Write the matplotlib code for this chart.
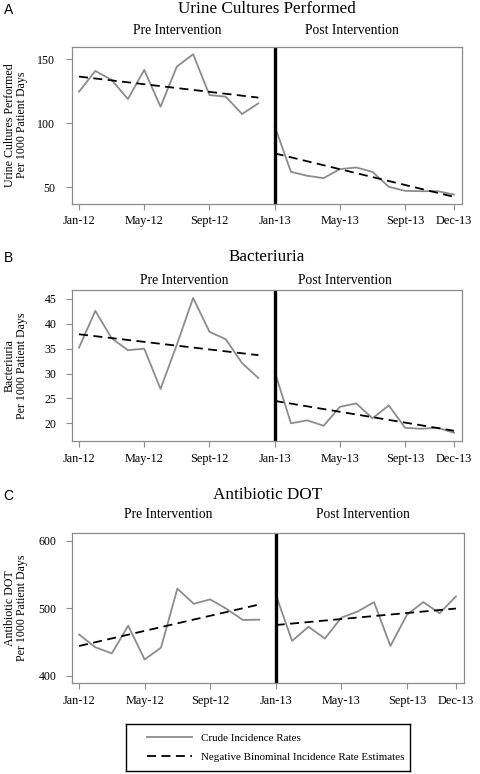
import numpy as np
import matplotlib
matplotlib.use("Agg")
from matplotlib import pyplot as plt

plt.rcParams["font.family"] = ["Liberation Serif", "DejaVu Serif"]

W, H = 480, 774

# months since Jan-12
months = np.arange(24)
pre_months = months[:12]
post_months = months[12:]
tick_months = [0, 4, 8, 12, 16, 20, 23]
tick_labels = ["Jan-12", "May-12", "Sept-12", "Jan-13", "May-13", "Sept-13", "Dec-13"]

# A - urine cultures per 1000 patient days
urine_pre = [124.7, 140.9, 133.9, 119.0, 141.7, 113.0, 144.3, 153.9, 122.1, 120.8, 107.3, 115.6]
urine_post = [97.9, 62.2, 59.1, 57.3, 64.3, 65.6, 62.2, 50.5, 47.4, 47.1, 47.1, 44.5]
urine_fit_pre = [136.5, 120.1]
urine_fit_post = [76.6, 42.7]

# B - bacteriuria per 1000 patient days
bact_pre = [35.2, 42.6, 37.1, 34.7, 35.0, 26.9, 35.8, 45.2, 38.4, 36.9, 32.1, 29.1]
bact_post = [30.4, 20.0, 20.6, 19.5, 23.3, 24.0, 21.0, 23.6, 19.1, 18.9, 19.1, 18.1]
bact_fit_pre = [37.9, 33.7]
bact_fit_post = [24.5, 18.5]

# C - antibiotic DOT per 1000 patient days
dot_pre = [461, 442, 433, 474, 424, 441.5, 529, 506.5, 513, 499, 482.5, 483]
dot_post = [520.5, 451.5, 472.5, 455, 486, 495, 509, 444, 490, 509, 492.5, 517.5]
dot_fit_pre = [444, 505.5]
dot_fit_post = [475, 499.5]

panels = [
    # letter, title, ylabel, pre, post, fit pre, fit post, yticks, ylim
    ("A", "Urine Cultures Performed", "Urine Cultures Performed\nPer 1000 Patient Days",
     urine_pre, urine_post, urine_fit_pre, urine_fit_post, [50, 100, 150], (37.5, 159.8)),
    ("B", "Bacteriuria", "Bacteriuria\nPer 1000 Patient Days",
     bact_pre, bact_post, bact_fit_pre, bact_fit_post, [20, 25, 30, 35, 40, 45], (16.5, 46.8)),
    ("C", "Antibiotic DOT", "Antibiotic DOT\nPer 1000 Patient Days",
     dot_pre, dot_post, dot_fit_pre, dot_fit_post, [400, 500, 600], (388.7, 611.4)),
]

# layout in pixels: left, right, top, bottom of each box
boxes = [(72, 462, 46.7, 203.5), (72, 462, 290, 440.7), (72, 464, 533, 683.3)]
title_y = [9, 256.7, 495]
sub_y = [31, 280, 515]
sub_x = [(177, 351.5), (184.3, 344.8), (168.3, 363)]
ypads = [8, 7, 7]

gray = "#8c8c8c"

fig = plt.figure(figsize=(W / 100, H / 100), dpi=100)

handles = None
for i, (letter, title, ylab, pre, post, fpre, fpost, yt, yl) in enumerate(panels):
    l, r, t, b = boxes[i]
    ax = fig.add_axes([l / W, 1 - b / H, (r - l) / W, (b - t) / H])

    h1, = ax.plot(pre_months, pre, color=gray, lw=1.3, label="Crude Incidence Rates")
    ax.plot(post_months, post, color=gray, lw=1.3)
    h2, = ax.plot([pre_months[0], pre_months[-1]], fpre, color="black", lw=1.3,
                  dashes=(5, 3), label="Negative Binominal Incidence Rate Estimates")
    ax.plot([post_months[0], post_months[-1]], fpost, color="black", lw=1.3, dashes=(5, 3))
    ax.axvline(12, color="black", lw=2.4)
    if handles is None:
        handles = [h1, h2]

    ax.set_xlim(-0.43, 23.49)
    ax.set_ylim(*yl)
    ax.set_xticks(tick_months)
    ax.set_xticklabels(tick_labels)
    ax.set_yticks(yt)

    for s in ax.spines.values():
        s.set_color(gray)
        s.set_linewidth(0.9)
    ax.tick_params(axis="x", direction="out", length=4, color=gray, labelsize=8.8, pad=4.5)
    ax.tick_params(axis="y", direction="out", length=4, color=gray, labelsize=8.6, pad=ypads[i])

    ax.set_ylabel(ylab, fontsize=8.6, linespacing=1.0)
    ax.yaxis.label.set_va("center")
    ax.yaxis.set_label_coords((16 - l) / (r - l), 0.5)

    # titles
    fig.text((l + r) / 2 / W, 1 - title_y[i] / H, title, fontsize=12.3,
             ha="center", va="center")
    fig.text(sub_x[i][0] / W, 1 - sub_y[i] / H, "Pre Intervention", fontsize=9.8,
             ha="center", va="center")
    fig.text(sub_x[i][1] / W, 1 - sub_y[i] / H, "Post Intervention", fontsize=9.8,
             ha="center", va="center")
    fig.text(8.5 / W, 1 - (title_y[i] + 1.5) / H, letter, fontsize=10, family="Liberation Sans",
             ha="center", va="center")

# legend box
ll, lr, lt, lb = 125.7, 410, 724, 771
lax = fig.add_axes([ll / W, 1 - lb / H, (lr - ll) / W, (lb - lt) / H])
lax.set_xticks([])
lax.set_yticks([])
for s in lax.spines.values():
    s.set_color("black")
    s.set_linewidth(1.0)
lax.legend(handles, [h.get_label() for h in handles], loc="center left",
           bbox_to_anchor=(0.055, 0.5), frameon=False, fontsize=7.9,
           handlelength=4.1, handletextpad=0.85, labelspacing=0.8, borderpad=0)

plt.savefig("out.png", dpi=100)
plt.close()
